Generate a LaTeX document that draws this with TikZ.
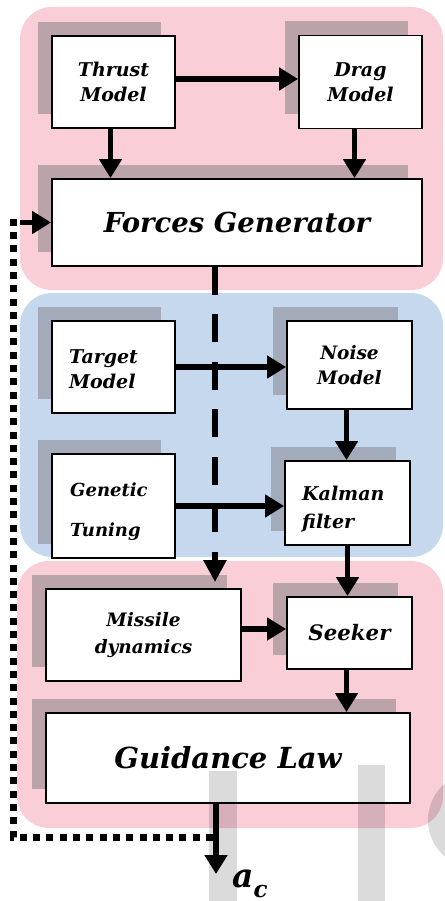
\documentclass[tikz,border=0pt]{standalone}
\usepackage{fontspec}
\setmainfont{DejaVu Serif}
\usetikzlibrary{arrows.meta,shadows,calc}

\definecolor{pinkbg}{RGB}{249,206,215}
\definecolor{bluebg}{RGB}{197,216,238}
\definecolor{pinkshade}{RGB}{186,164,169}
\definecolor{blueshade}{RGB}{163,170,186}

\begin{document}
\begin{tikzpicture}[x=1pt,y=-1pt,
  box/.style={draw=black,line width=1.8pt,fill=white,inner sep=0pt,align=center},
  pshad/.style={drop shadow={shadow xshift=-14pt,shadow yshift=14pt,fill=pinkshade,opacity=1}},
  bshad/.style={drop shadow={shadow xshift=-14pt,shadow yshift=14pt,fill=blueshade,opacity=1}},
  lblS/.style={font=\fontsize{19}{25}\selectfont\bfseries\itshape},
  panel/.style={rounded corners=32pt},
  flow/.style={line width=5.5pt,-{Triangle[length=19pt,width=22pt]}},
  dashflow/.style={line width=5.5pt,dash pattern=on 28pt off 19.5pt,-{Triangle[length=22pt,width=22pt]}},
  feedback/.style={line width=7pt,dash pattern=on 7pt off 6.3pt},
  wmark/.style={fill=black,opacity=0.14}
]
\useasboundingbox (0,0) rectangle (444,901);

% group panels
\fill[pinkbg,panel] (20,7) rectangle (443,290);
\fill[bluebg,panel] (20,293) rectangle (443,557);
\fill[pinkbg,panel] (17,561) rectangle (443,828);

% force models
\node[box,pshad,lblS,minimum width=123pt,minimum height=92pt] (thrust) at (113.5,82) {Thrust\\Model};
\node[box,pshad,lblS,minimum width=123pt,minimum height=93pt] (drag) at (360.5,82) {Drag\\Model};
\node[box,pshad,minimum width=370pt,minimum height=87pt,font=\fontsize{27.5}{30}\selectfont\bfseries\itshape] (forces) at (237,222.5) {Forces Generator};

% target and estimation
\node[box,bshad,minimum width=123pt,minimum height=92pt] (target) at (113.5,367) {};
\node[lblS,align=left,anchor=west,inner sep=0pt] (targettxt) at (69,369) {Target\\Model};
\node[box,bshad,minimum width=125pt,minimum height=88pt,font=\fontsize{18.5}{25}\selectfont\bfseries\itshape] (noise) at (349.5,365) {Noise\\Model};
\node[box,bshad,minimum width=123pt,minimum height=104pt] (genetic) at (113.5,506) {};
\node[align=left,anchor=west,inner sep=0pt,font=\fontsize{18}{40}\selectfont\bfseries\itshape] (genetictxt) at (70,512) {Genetic\\Tuning};
\node[box,bshad,minimum width=125pt,minimum height=84pt] (kalman) at (347.5,503) {};
\node[align=left,anchor=west,inner sep=0pt,font=\fontsize{19}{28}\selectfont\bfseries\itshape] (kalmantxt) at (302,509) {Kalman\\filter};

% missile loop
\node[box,pshad,minimum width=195pt,minimum height=92pt,font=\fontsize{18.5}{27}\selectfont\bfseries\itshape] (missile) at (143.5,635) {Missile\\dynamics};
\node[box,pshad,minimum width=125pt,minimum height=72pt,font=\fontsize{21.3}{24}\selectfont\bfseries\itshape] (seeker) at (349.5,633) {Seeker};
\node[box,pshad,minimum width=364pt,minimum height=90pt,font=\fontsize{29}{32}\selectfont\bfseries\itshape] (guidance) at (228,758) {Guidance Law};

% connectors
\coordinate (dx) at (215,0);
\coordinate (ox) at (216,0);
\draw[flow] ($(thrust.east)+(0,-3)$) -- ($(drag.west)+(0,-3)$);
\draw[flow] ($(thrust.south)+(-3,0)$) -- ($(thrust.south |- forces.north)+(-3,0)$);
\draw[flow] ($(drag.south)+(-6,0)$) -- ($(drag.south |- forces.north)+(-6,0)$);
\draw[flow] (target.east) -- (target.east -| noise.west);
\draw[flow] ($(noise.south)+(-3,0)$) -- ($(noise.south |- kalman.north)+(-3,0)$);
\draw[flow] (genetic.east) -- (genetic.east -| kalman.west);
\draw[flow] (kalman.south) -- (kalman.south |- seeker.north);
\draw[flow] ($(missile.east)+(0,-6)$) -- ($(missile.east -| seeker.west)+(0,-6)$);
\draw[flow] ($(seeker.south)+(-3,0)$) -- ($(seeker.south |- guidance.north)+(-3,0)$);
\draw[dashflow] (forces.south -| dx) -- ($(missile.north -| dx)+(0,-6)$);

% output and feedback
\coordinate (acout) at (216,874);
\draw[flow] (guidance.south -| ox) -- (acout);
\node[anchor=base west,inner sep=0pt] (ac) at (232,887)
  {\fontsize{33}{33}\selectfont\bfseries\itshape a\raisebox{-10pt}{\fontsize{23}{23}\selectfont c}};
\coordinate (fbstart) at (213,837);
\coordinate (fbcorner) at (13,837);
\coordinate (fbtop) at (13,216);
\coordinate (fbin) at (20,222.5);
\draw[feedback] (fbstart) -- (fbcorner) -- (fbtop);
\draw[flow] (fbin) -- (forces.west);

% faint marks along the lower edge
\fill[wmark] (209,771) rectangle (237,901);
\fill[wmark] (358,765) rectangle (385,901);
\fill[wmark] (476,820) circle (48);
\end{tikzpicture}
\end{document}
